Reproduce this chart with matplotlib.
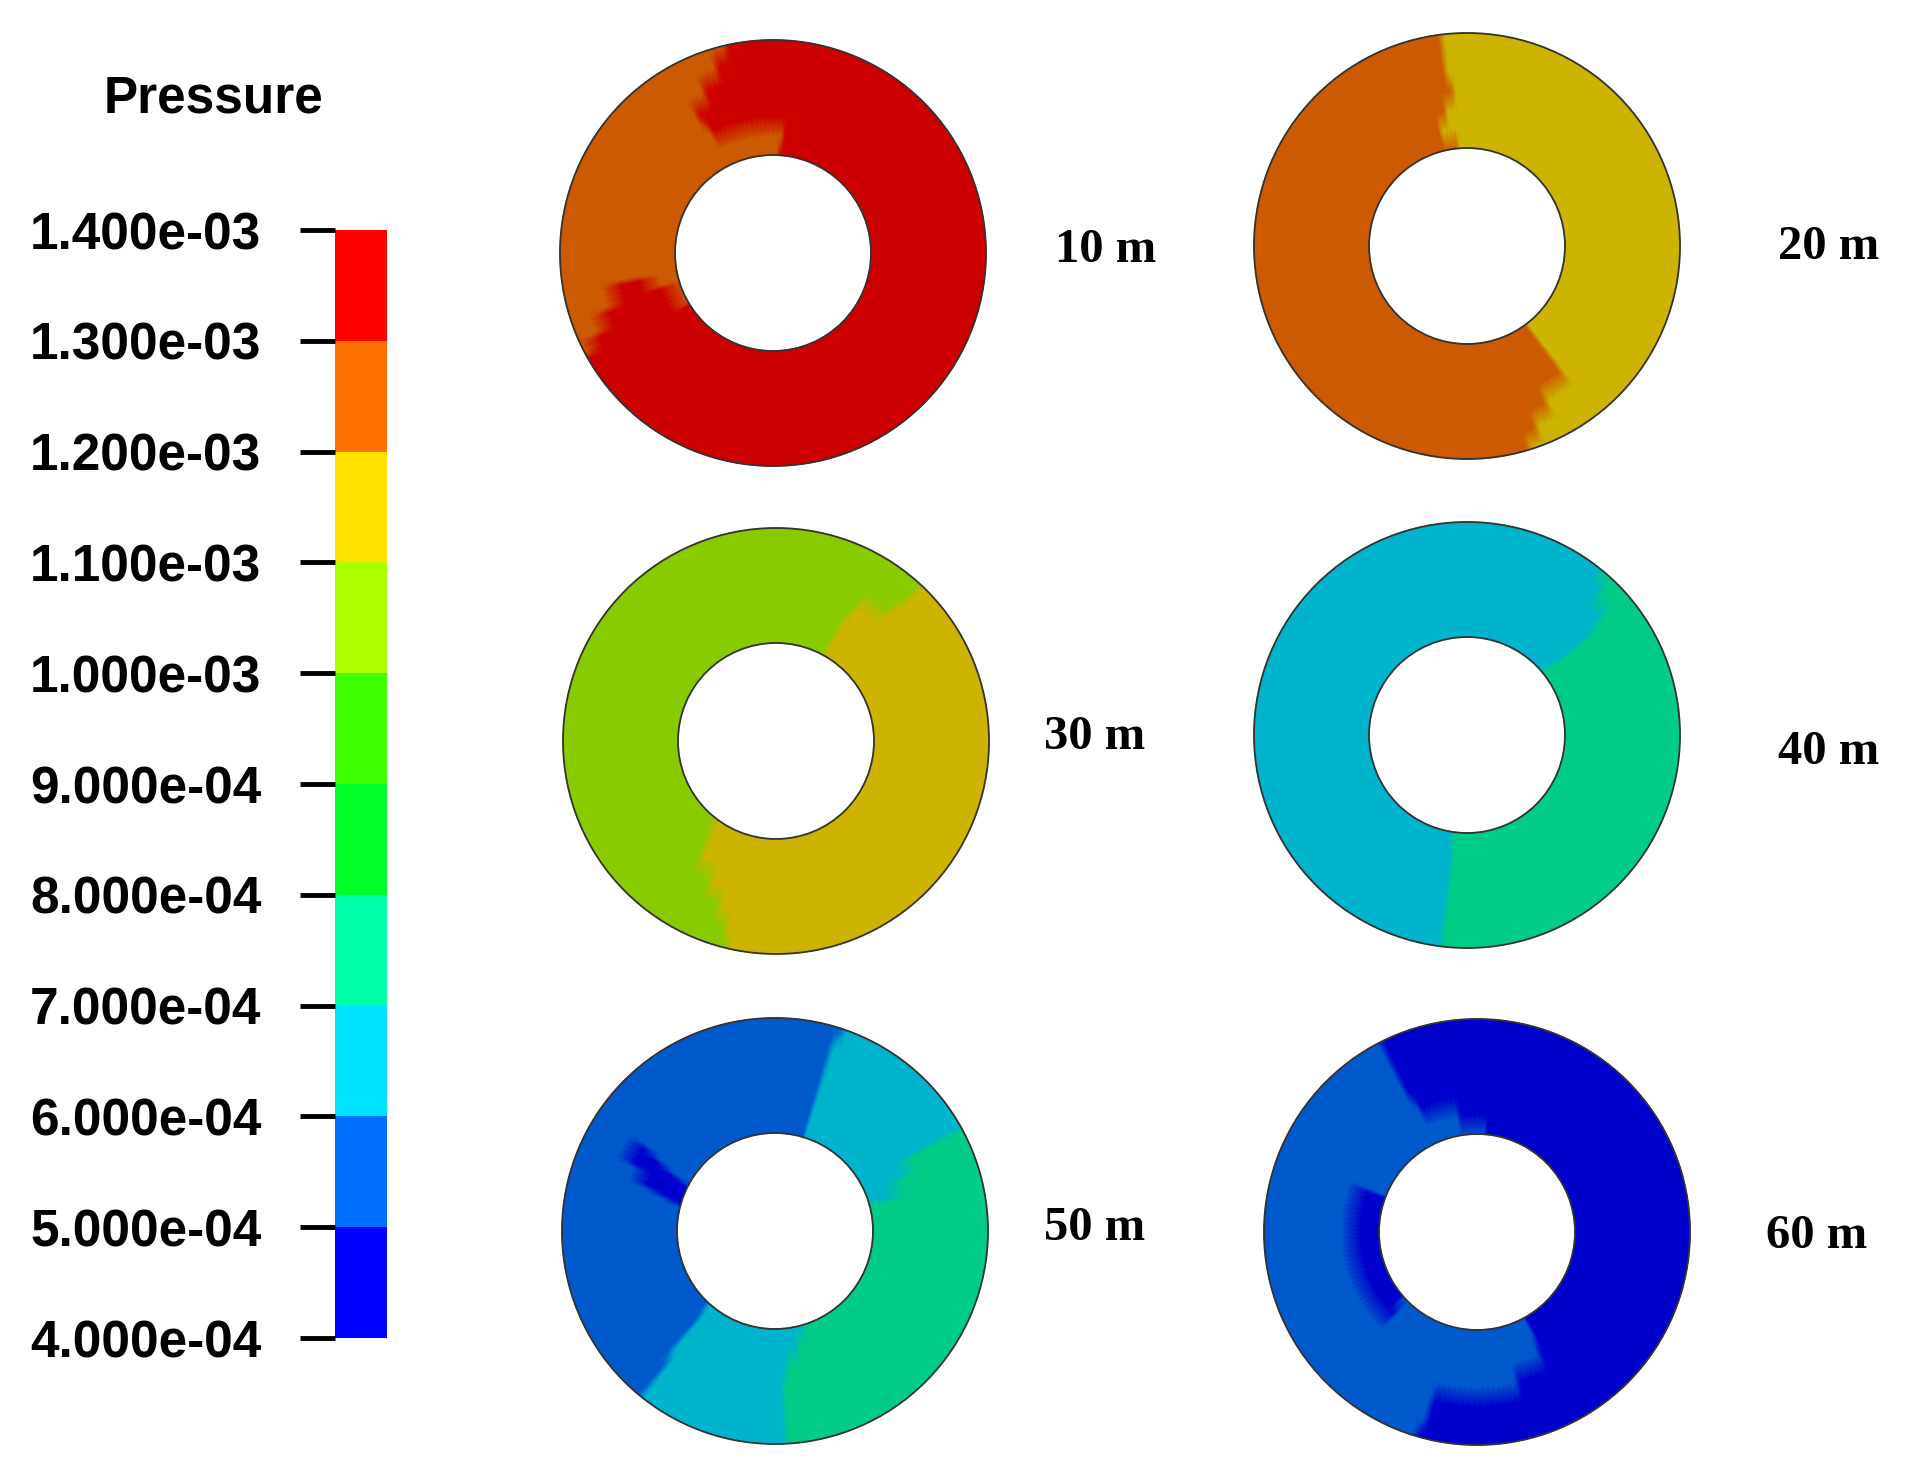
import numpy as np
import matplotlib
matplotlib.use("Agg")
import matplotlib.pyplot as plt
import matplotlib.colors as mcolors
from matplotlib.patches import Circle
from matplotlib.cm import ScalarMappable

# pressure levels of the legend and colours of each band (low -> high)
levels = [4e-4, 5e-4, 6e-4, 7e-4, 8e-4, 9e-4, 1.0e-3, 1.1e-3, 1.2e-3, 1.3e-3, 1.4e-3]
bar_colors = ["#0000FF", "#0070FF", "#00E1FF", "#00FFAA", "#00FF28",
              "#40FF00", "#AAFF00", "#FFE100", "#FF7000", "#FF0000"]

ring_names = ["10 m", "20 m", "30 m", "40 m", "50 m", "60 m"]
# radial positions (inner edge -> outer edge) where the zone angles were read
ring_levels = [0, 1 / 6, 2 / 6, 3 / 6, 4 / 6, 5 / 6, 1]

# each ring: background pressure + zones (pressure, start angles, end angles)
# angles in degrees, counter-clockwise from the right, one per radial level
base_10 = 1.35e-3
zones_10 = [(1.25e-3, [88, 85, 118, 120, 113, 107, 103],
                      [212, 198, 191, 192, 200, 205, 210])]

base_20 = 1.15e-3
zones_20 = [(1.25e-3, [96, 103, 100, 96, 97, 98, 98],
                      [308, 308, 308, 307, 297, 292, 288])]

base_30 = 1.15e-3
zones_30 = [(1.05e-3, [61, 61, 62, 59, 49, 48, 48],
                      [232, 236, 238, 245, 251, 255, 257])]

base_40 = 7.5e-4
zones_40 = [(6.5e-4, [41, 40, 40, 40, 41, 47, 52],
                     [262, 263, 263, 263, 263, 264, 264])]

base_50 = 5.5e-4
zones_50 = [(7.5e-4, [287, 281, 275, 274, 274, 274, 274],
                     [17, 16, 24, 30, 30, 29, 29]),
            (6.5e-4, [17, 16, 24, 30, 30, 29, 29],
                     [74, 74, 74, 73, 73, 73, 72]),
            (6.5e-4, [228, 229, 230, 230, 231, 231, 232],
                     [287, 281, 275, 274, 274, 274, 274]),
            (4.5e-4, [154, 152, 150, 148, 0, 0, 0],
                     [166, 164, 162, 156, 0, 0, 0])]

base_60 = 4.5e-4
zones_60 = [(5.5e-4, [86, 100, 115, 117, 117, 118, 118],
                     [160, 160, 298, 285, 256, 255, 254]),
            (5.5e-4, [222, 225, 0, 0, 0, 0, 0],
                     [300, 300, 0, 0, 0, 0, 0])]

ring_bases = [base_10, base_20, base_30, base_40, base_50, base_60]
ring_zones = [zones_10, zones_20, zones_30, zones_40, zones_50, zones_60]

# layout (pixels)
centers = [(773, 253), (1467, 246), (776, 741), (1467, 735), (775, 1231), (1477, 1232)]
label_pos = [(1055, 250), (1778, 247), (1044, 737), (1778, 752), (1044, 1228), (1766, 1236)]
R_OUT, R_IN = 213, 98

bar_cmap = mcolors.ListedColormap(bar_colors)
# contour shading in the picture is the legend colour dimmed to 80 %
ring_cmap = mcolors.ListedColormap([tuple(0.8 * np.array(mcolors.to_rgb(c))) for c in bar_colors])
norm = mcolors.BoundaryNorm(levels, len(bar_colors))


def in_arc(theta, a0, a1):
    span = (a1 - a0) % 360
    return ((theta - a0) % 360 < span) & (span > 0)


fig = plt.figure(figsize=(19.10, 14.77), dpi=100)
ax = fig.add_axes([0, 0, 1, 1])
ax.set_xlim(0, 1910)
ax.set_ylim(1477, 0)
ax.axis("off")

theta = np.arange(0, 360.1, 2)
frac = np.array(ring_levels)

for (cx, cy), base, zones in zip(centers, ring_bases, ring_zones):
    C = np.full((len(frac), len(theta)), base)
    for i in range(len(frac)):
        for val, starts, ends in zones:
            C[i, in_arc(theta, starts[i], ends[i])] = val
    r = R_IN + frac * (R_OUT - R_IN)
    T = np.radians(theta)
    X = cx + r[:, None] * np.cos(T)[None, :]
    Y = cy - r[:, None] * np.sin(T)[None, :]
    ax.pcolormesh(X, Y, C, shading="gouraud", cmap=ring_cmap, norm=norm)
    for rad in (R_OUT, R_IN):
        ax.add_patch(Circle((cx, cy), rad, fill=False, ec="#333333", lw=1.3))

for name, (lx, ly) in zip(ring_names, label_pos):
    ax.text(lx, ly, name, ha="left", va="center", fontsize=35, fontweight="bold",
            family="Liberation Serif")

# legend bar
cax = fig.add_axes([335 / 1910, 1 - 1338 / 1477, 52 / 1910, 1108 / 1477])
cb = fig.colorbar(ScalarMappable(norm=norm, cmap=bar_cmap), cax=cax, ticks=levels)
cb.outline.set_visible(False)
cax.yaxis.set_ticks_position("left")
cax.tick_params(axis="y", length=25, width=3.5, pad=28, labelsize=37)
cax.set_yticklabels([f"{v:.3e}" for v in levels])
for lab in cax.get_yticklabels():
    lab.set_fontweight("bold")
    lab.set_family("Liberation Sans")

fig.text(213 / 1910, 1 - 99 / 1477, "Pressure", ha="center", va="center",
         fontsize=37, fontweight="bold", family="Liberation Sans")

fig.savefig("out.png", dpi=100)
